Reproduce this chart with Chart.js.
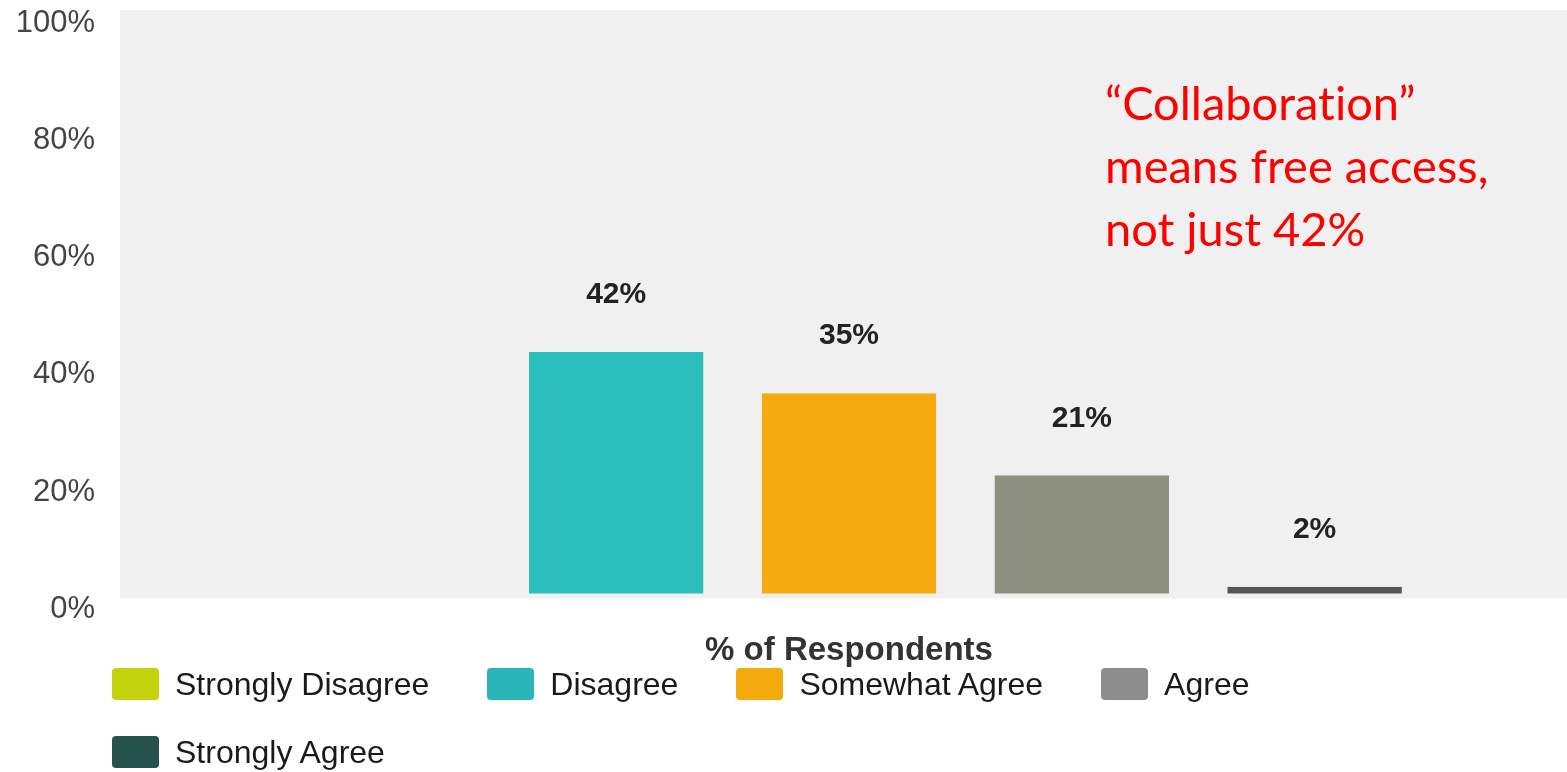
<!DOCTYPE html>
<html>
<head>
<meta charset="utf-8">
<title>% of Respondents</title>
<script src="https://cdn.jsdelivr.net/npm/chart.js@4.4.1/dist/chart.umd.min.js"></script>
<style>
  html, body { margin: 0; padding: 0; background: #fff; }
  #wrap { position: relative; width: 1567px; height: 772px; overflow: hidden; }
  #chart { position: absolute; left: 0; top: 0; }
  #legend {
    position: absolute; left: 112px; top: 668px; width: 1300px;
    display: flex; flex-wrap: wrap; column-gap: 58px; row-gap: 36px;
    font-family: "Liberation Sans", Arial, sans-serif; font-size: 32px; color: #1a1a1a;
  }
  #legend .item { display: flex; align-items: center; height: 32px; }
  #legend .box { width: 47px; height: 32px; border-radius: 4px; margin-right: 16px; }
  #note {
    position: absolute; left: 1105px; top: 71px;
    font-family: Lato, "Noto Sans", sans-serif; font-size: 47px; line-height: 63px;
    font-variant-ligatures: none;
    color: #ff0000;
  }
</style>
</head>
<body>
<div id="wrap">
  <canvas id="chart" width="1567" height="772"></canvas>
  <div id="legend"></div>
  <div id="note">“Collaboration”<br>means free access,<br>not just 42%</div>
</div>
<script>
const categories = ['Strongly Disagree', 'Disagree', 'Somewhat Agree', 'Agree', 'Strongly Agree'];
const shares = [0, 42, 35, 21, 2];
const yTicks = [0, 20, 40, 60, 80, 100];

const barColors = ['#c3d30b', '#2cbdbd', '#f5aa10', '#8e917f', '#545754'];
const legendColors = ['#c3d30b', '#2ab5b8', '#f4a90c', '#8d8d8d', '#24524c'];

// grey panel behind the bars, runs past the category slots to the right edge
const plotBackground = {
  id: 'plotBackground',
  beforeDraw(chart) {
    const { ctx, chartArea } = chart;
    ctx.save();
    ctx.fillStyle = '#f0f0f0';
    ctx.fillRect(120, chartArea.top - 2, chart.width - 120, chartArea.bottom - chartArea.top + 2);
    ctx.restore();
  }
};

// percentage printed above each non-empty bar
const valueLabels = {
  id: 'valueLabels',
  afterDatasetsDraw(chart) {
    const { ctx } = chart;
    const meta = chart.getDatasetMeta(0);
    ctx.save();
    ctx.font = 'bold 30px "Liberation Sans", Arial, sans-serif';
    ctx.fillStyle = '#222';
    ctx.textAlign = 'center';
    ctx.textBaseline = 'middle';
    meta.data.forEach((bar, i) => {
      const v = shares[i];
      if (!v) return;
      ctx.fillText(v + '%', bar.x, bar.y - 57);
    });
    ctx.restore();
  }
};

const chart = new Chart(document.getElementById('chart'), {
  type: 'bar',
  data: {
    labels: categories,
    datasets: [{
      label: '% of Respondents',
      data: shares,
      backgroundColor: barColors,
      borderColor: '#f0f0f0',
      borderWidth: { top: 0, left: 0, right: 0, bottom: 5 },
      borderSkipped: false,
      barPercentage: 0.75,
      categoryPercentage: 1.0
    }]
  },
  options: {
    responsive: false,
    animation: false,
    devicePixelRatio: 1,
    layout: { padding: { left: 0, right: 136, top: 12, bottom: 101 } },
    plugins: {
      legend: { display: false },
      tooltip: { enabled: false }
    },
    scales: {
      x: {
        offset: true,
        grid: { display: false, drawTicks: false },
        border: { display: false },
        ticks: { display: false },
        title: {
          display: true,
          text: '% of Respondents',
          color: '#333',
          font: { family: '"Liberation Sans", Arial, sans-serif', size: 33, weight: 'bold' },
          padding: { top: 33, bottom: 0 }
        }
      },
      y: {
        min: 0,
        max: 100,
        afterBuildTicks(scale) {
          scale.ticks = yTicks.map(v => ({ value: v }));
        },
        afterFit(scale) {
          scale.width = 267;
          scale.paddingTop = 0;
          scale.paddingBottom = 0;
        },
        grid: { display: false, drawTicks: false },
        border: { display: false },
        ticks: {
          padding: 172,
          labelOffset: 11,
          color: '#444',
          font: { family: '"Liberation Sans", Arial, sans-serif', size: 31 },
          callback: v => v + '%'
        }
      }
    }
  },
  plugins: [plotBackground, valueLabels]
});

// legend boxes built from the same categories
const legendEl = document.getElementById('legend');
categories.forEach((name, i) => {
  const item = document.createElement('div');
  item.className = 'item';
  item.innerHTML = `<span class="box" style="background:${legendColors[i]}"></span><span>${name}</span>`;
  legendEl.appendChild(item);
});
</script>
</body>
</html>
